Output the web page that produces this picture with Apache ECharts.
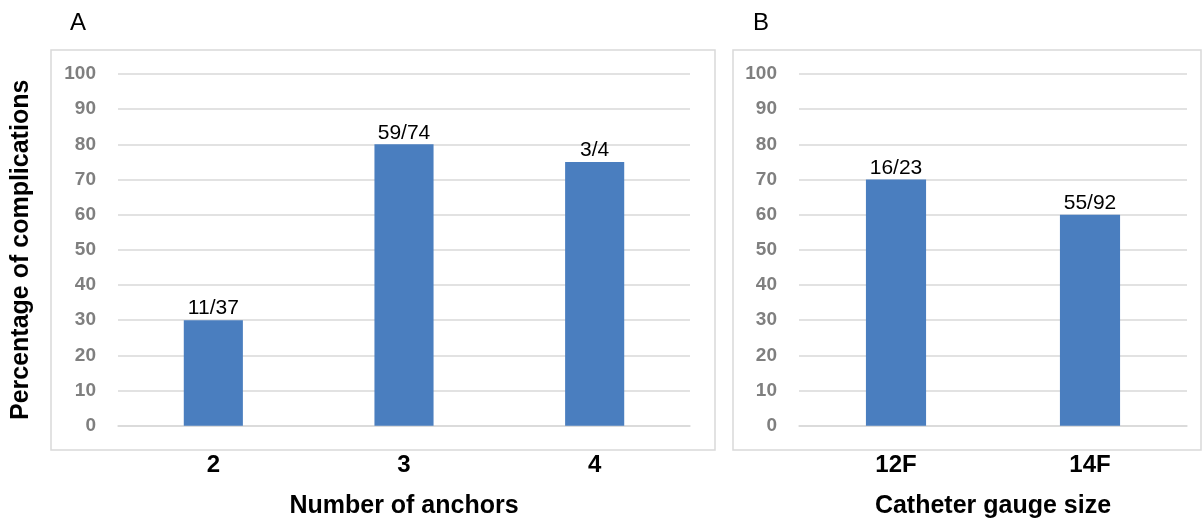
<!DOCTYPE html>
<html>
<head>
<meta charset="utf-8">
<script src="https://cdn.jsdelivr.net/npm/echarts@6/dist/echarts.min.js"></script>
<style>html,body{margin:0;padding:0;background:#fff}#c{width:1203px;height:518px}</style>
</head>
<body>
<div id="c"></div>
<script>
const catsA = ['2', '3', '4'];
const valsA = [30, 80, 75];
const labelsA = ['11/37', '59/74', '3/4'];
const catsB = ['12F', '14F'];
const valsB = [70, 60];
const labelsB = ['16/23', '55/92'];
const yTicks = { min: 0, max: 100, interval: 10 };

const FONT = "'Liberation Sans', Arial, sans-serif";
const BAR = '#4a7ebf';
const GRID = '#d9d9d9';

function xAx(idx, cats, name) {
  return {
    type: 'category', gridIndex: idx, data: cats,
    axisTick: { show: false },
    axisLine: { show: true, lineStyle: { color: GRID, width: 1.5 } },
    axisLabel: { margin: 28, fontFamily: FONT, fontWeight: 'bold', fontSize: 24, color: '#000' },
    name: name, nameLocation: 'middle', nameGap: 68,
    nameTextStyle: { fontFamily: FONT, fontWeight: 'bold', fontSize: 25, color: '#000' }
  };
}
function yAx(idx, name) {
  const o = {
    type: 'value', gridIndex: idx, min: yTicks.min, max: yTicks.max, interval: yTicks.interval,
    axisLine: { show: false }, axisTick: { show: false },
    splitLine: { lineStyle: { color: GRID, width: 1.5 } },
    axisLabel: { margin: 22, fontFamily: FONT, fontWeight: 'bold', fontSize: 19, color: '#7f7f7f' }
  };
  if (name) {
    o.name = name; o.nameLocation = 'middle'; o.nameGap = 84; o.nameRotate = 90;
    o.nameTextStyle = { fontFamily: FONT, fontWeight: 'bold', fontSize: 25, color: '#000' };
  }
  return o;
}
function bars(idx, vals, labels) {
  return {
    type: 'bar', xAxisIndex: idx, yAxisIndex: idx, data: vals, barWidth: '31%',
    itemStyle: { color: BAR },
    label: {
      show: true, position: 'top', distance: 1,
      fontFamily: FONT, fontSize: 21, color: '#000',
      formatter: p => labels[p.dataIndex]
    }
  };
}

const chart = echarts.init(document.getElementById('c'));
chart.setOption({
  animation: false,
  backgroundColor: '#fff',
  grid: [
    { left: 118, right: 1203 - 690, top: 74, bottom: 518 - 425.7, outerBoundsMode: 'none', containLabel: false },
    { left: 799, right: 1203 - 1187, top: 74, bottom: 518 - 425.7, outerBoundsMode: 'none', containLabel: false }
  ],
  xAxis: [xAx(0, catsA, 'Number of anchors'), xAx(1, catsB, 'Catheter gauge size')],
  yAxis: [yAx(0, 'Percentage of complications'), yAx(1, null)],
  series: [bars(0, valsA, labelsA), bars(1, valsB, labelsB)],
  graphic: [
    { type: 'rect', shape: { x: 51, y: 50, width: 664, height: 400 }, style: { fill: 'none', stroke: GRID, lineWidth: 1.5 }, z: -1 },
    { type: 'rect', shape: { x: 733, y: 50, width: 468, height: 400 }, style: { fill: 'none', stroke: GRID, lineWidth: 1.5 }, z: -1 },
    { type: 'text', left: 70, top: 11, style: { text: 'A', font: '24px ' + FONT, fill: '#000' } },
    { type: 'text', left: 753, top: 11, style: { text: 'B', font: '24px ' + FONT, fill: '#000' } }
  ]
});
</script>
</body>
</html>
